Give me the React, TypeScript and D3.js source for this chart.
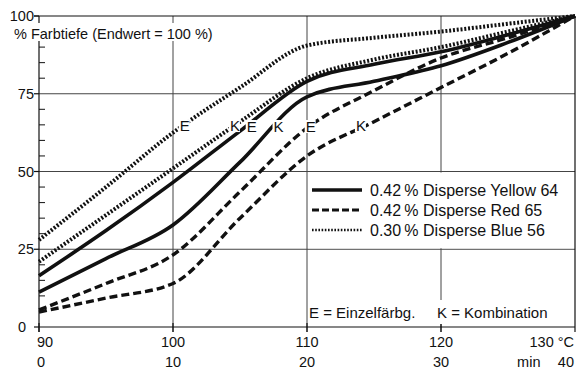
import React from "react";
import * as d3 from "d3";

// Temperature (°C) sample points and dyeing time labels
const temps = [90, 95, 100, 105, 110, 115, 120, 125, 130];
const tempTicks = [90, 100, 110, 120];
const timeTicks = ["0", "10", "20", "30"];
const yTicks = [0, 25, 50, 75, 100];
const yMinorTicks = [5, 10, 15, 20, 30, 35, 40, 45, 55, 60, 65, 70, 80, 85, 90];

// % colour depth (E = single dyeing, K = combination)
const yellowE = [16.5, 31, 46.5, 63, 79, 84.5, 88.5, 94, 100];
const yellowK = [11.2, 22, 32.8, 53, 74, 79, 84, 91.5, 100];
const redE = [5.5, 14, 23.2, 43.5, 64, 76, 86.5, 93, 100];
const redK = [4.8, 9.3, 14, 35, 55, 66, 77, 88, 100];
const blueE = [28, 45, 62.5, 77, 90.5, 93, 95, 97.5, 100];
const blueK = [21, 36, 51, 66, 80, 86, 90, 95, 100];

const legendLabels = [
  "0.42\u2009% Disperse Yellow 64",
  "0.42\u2009% Disperse Red 65",
  "0.30\u2009% Disperse Blue 56",
];

// E / K curve labels (temperature, % depth at baseline)
const curveLabelText = ["E", "K", "E", "K", "E", "K"];
const curveLabelX = [100.5, 104.25, 105.5, 107.5, 109.9, 113.65];
const curveLabelY = [63, 63, 62.7, 62.7, 62.7, 63];

const W = 582;
const H = 374;
const FONT = "'Liberation Sans', Arial, Helvetica, sans-serif";

export default function App() {
  const x = d3.scaleLinear().domain([90, 130]).range([39, 575]);
  const y = d3.scaleLinear().domain([0, 100]).range([327, 16]);

  const line = (vals: number[]) =>
    d3
      .line<number>()
      .x((_, i) => x(temps[i]))
      .y((d) => y(d))
      .curve(d3.curveMonotoneX)(vals) as string;

  const styles = {
    solid: { strokeWidth: 3.6, dash: undefined as string | undefined },
    dashed: { strokeWidth: 3.4, dash: "8 4" },
    dotted: { strokeWidth: 4, dash: "2 1.8" },
  };

  const series = [
    { vals: blueE, s: styles.dotted },
    { vals: blueK, s: styles.dotted },
    { vals: yellowE, s: styles.solid },
    { vals: yellowK, s: styles.solid },
    { vals: redE, s: styles.dashed },
    { vals: redK, s: styles.dashed },
  ];

  const ink = "#111";
  const grid = "#444";

  return (
    <svg
      width={W}
      height={H}
      style={{ position: "absolute", left: 0, top: 0, background: "#fff" }}
      fontFamily={FONT}
    >
      <rect x={0} y={0} width={W} height={H} fill="#fff" />
      {/* horizontal grid */}
      {[25, 50, 75].map((v) => (
        <line key={"h" + v} x1={x(90)} x2={x(130)} y1={y(v)} y2={y(v)} stroke={grid} strokeWidth={1} />
      ))}
      {/* vertical grid */}
      {[100, 110, 120].map((v) => (
        <line key={"v" + v} x1={x(v)} x2={x(v)} y1={y(100)} y2={y(0) + 5} stroke={grid} strokeWidth={1} />
      ))}
      {/* frame: top and right */}
      <line x1={x(90) - 5} x2={x(130)} y1={y(100)} y2={y(100)} stroke={ink} strokeWidth={1.2} />
      <line x1={x(130)} x2={x(130)} y1={y(100)} y2={y(0) + 5} stroke={ink} strokeWidth={1.2} />
      {/* bottom axis */}
      <line x1={x(90)} x2={x(130)} y1={y(0)} y2={y(0)} stroke={ink} strokeWidth={1.2} />
      {tempTicks.map((t) => (
        <line key={"bt" + t} x1={x(t)} x2={x(t)} y1={y(0) - 4} y2={y(0) + 5} stroke={ink} strokeWidth={1.2} />
      ))}
      {/* left axis */}
      <line x1={x(90)} x2={x(90)} y1={y(100)} y2={y(0) + 5} stroke={ink} strokeWidth={1.2} />
      {yTicks.map((t) => (
        <line key={"yt" + t} x1={x(90) - 5} x2={x(90)} y1={y(t)} y2={y(t)} stroke={ink} strokeWidth={1.2} />
      ))}
      {yMinorTicks.map((t) => (
        <line key={"ym" + t} x1={x(90)} x2={x(90) + 6} y1={y(t)} y2={y(t)} stroke={ink} strokeWidth={1} />
      ))}

      {/* white backgrounds for legend and note */}
      <rect x={x(110) + 1} y={y(50) + 1} width={x(130) - x(110) - 2} height={y(25) - y(50) - 2} fill="#fff" />
      <rect x={x(110) + 1} y={300} width={x(130) - x(110) - 2} height={24} fill="#fff" />

      {/* curves */}
      {series.map((sr, i) => (
        <path
          key={"s" + i}
          d={line(sr.vals)}
          fill="none"
          stroke={ink}
          strokeWidth={sr.s.strokeWidth}
          strokeDasharray={sr.s.dash}
          strokeLinecap="butt"
          strokeLinejoin="round"
        />
      ))}

      {/* curve labels with white background */}
      {curveLabelText.map((t, i) => (
        <g key={"cl" + i}>
          <rect x={x(curveLabelX[i]) - 1} y={y(curveLabelY[i]) - 12} width={11} height={13} fill="#fff" />
          <text x={x(curveLabelX[i])} y={y(curveLabelY[i])} fontSize={15} fill={ink}>
            {t}
          </text>
        </g>
      ))}

      {/* title with white background */}
      <rect x={x(90) - 2} y={23} width={190} height={18} fill="#fff" />
      <text x={14} y={39} fontSize={14.5} fill={ink}>
        % Farbtiefe (Endwert = 100 %)
      </text>

      {/* y tick labels */}
      {yTicks.map((t) => (
        <text
          key={"yl" + t}
          x={t === 0 ? 26 : 34}
          y={y(t) + 5}
          fontSize={14.5}
          textAnchor="end"
          fill={ink}
        >
          {t}
        </text>
      ))}

      {/* x tick labels */}
      {tempTicks.map((t, i) => (
        <g key={"xl" + t}>
          <text x={i === 0 ? 37 : x(t)} y={y(0) + 20} fontSize={14.5} textAnchor={i === 0 ? "start" : "middle"} fill={ink}>
            {t}
          </text>
          <text x={i === 0 ? 37 : x(t)} y={y(0) + 40} fontSize={14.5} textAnchor={i === 0 ? "start" : "middle"} fill={ink}>
            {timeTicks[i]}
          </text>
        </g>
      ))}
      <text x={574} y={y(0) + 20} fontSize={14.5} textAnchor="end" fill={ink}>
        130 °C
      </text>
      <text x={574} y={y(0) + 40} fontSize={14.5} textAnchor="end" fill={ink} xmlSpace="preserve">
        {"min\u2003\u200940"}
      </text>

      {/* legend */}
      {legendLabels.map((lab, i) => {
        const ly = 190 + i * 20;
        return (
          <g key={"lg" + i}>
            <line
              x1={312}
              x2={362}
              y1={ly}
              y2={ly}
              stroke={ink}
              strokeWidth={i === 0 ? 3.4 : i === 1 ? 3 : 2.5}
              strokeDasharray={i === 0 ? undefined : i === 1 ? "7 3" : "1.6 1.6"}
            />
            <text x={370} y={ly + 6} fontSize={16} fill={ink}>
              {lab}
            </text>
          </g>
        );
      })}

      {/* note */}
      <text x={309} y={318} fontSize={15} fill={ink}>
        E = Einzelfärbg.
      </text>
      <text x={437} y={318} fontSize={15} fill={ink}>
        K = Kombination
      </text>
    </svg>
  );
}
